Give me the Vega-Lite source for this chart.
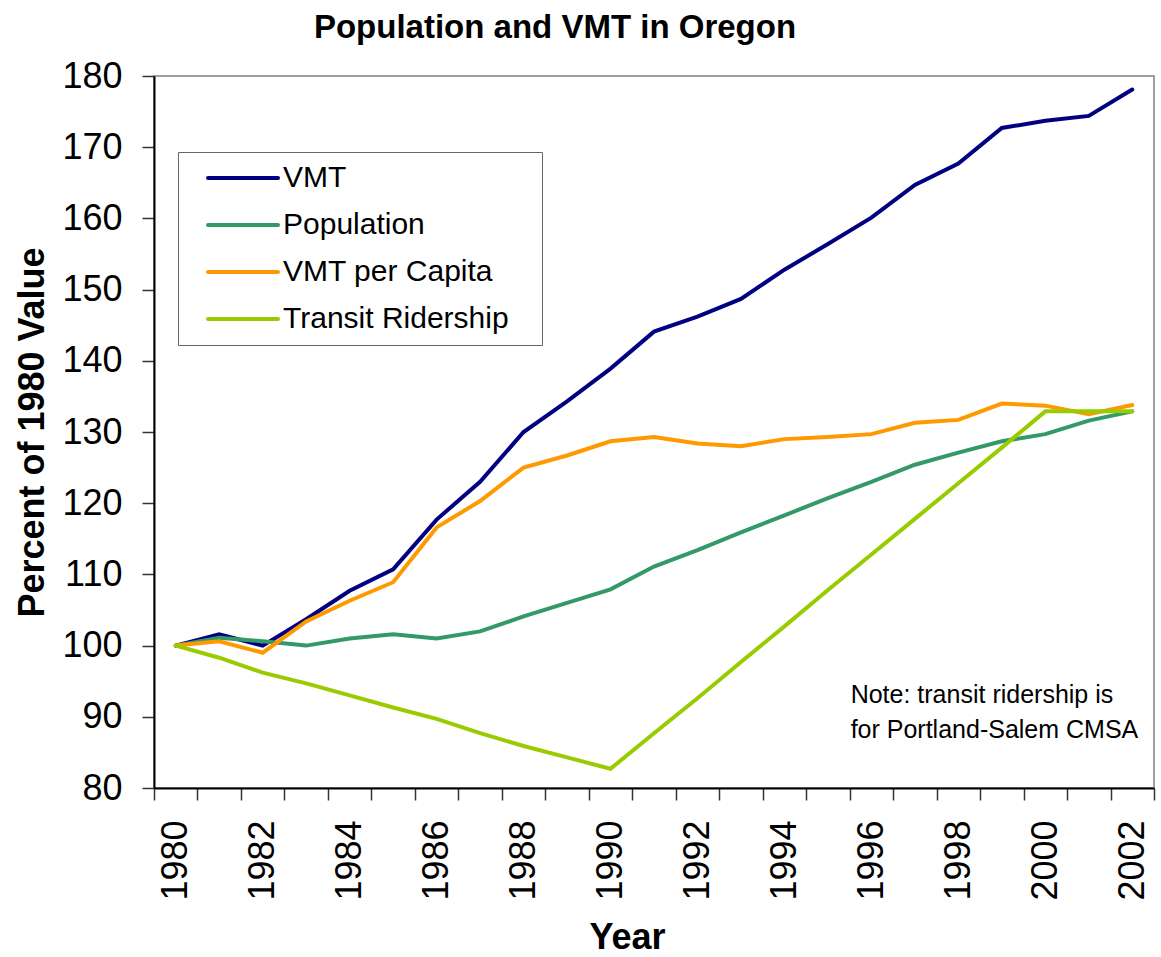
{
  "$schema": "https://vega.github.io/schema/vega-lite/v6.json",
  "autosize": "none",
  "padding": {"left": 154, "top": 76, "right": 7, "bottom": 169},
  "width": 1000,
  "height": 712,
  "background": "white",
  "title": {
    "text": "Population and VMT in Oregon",
    "font": "Liberation Sans",
    "fontSize": 33,
    "fontWeight": "bold",
    "color": "black",
    "anchor": "middle",
    "frame": "group",
    "baseline": "alphabetic",
    "dx": -99,
    "offset": -13
  },
  "config": {
    "view": {"stroke": "#808080", "strokeWidth": 1.5},
    "axis": {"grid": false}
  },
  "layer": [
    {
      "data": {
        "values": [
          {"year": 1980, "series": "VMT", "value": 100.0},
          {"year": 1981, "series": "VMT", "value": 101.6},
          {"year": 1982, "series": "VMT", "value": 100.0},
          {"year": 1983, "series": "VMT", "value": 103.7},
          {"year": 1984, "series": "VMT", "value": 107.7},
          {"year": 1985, "series": "VMT", "value": 110.7},
          {"year": 1986, "series": "VMT", "value": 117.7},
          {"year": 1987, "series": "VMT", "value": 123.0},
          {"year": 1988, "series": "VMT", "value": 130.0},
          {"year": 1989, "series": "VMT", "value": 134.3},
          {"year": 1990, "series": "VMT", "value": 138.9},
          {"year": 1991, "series": "VMT", "value": 144.1},
          {"year": 1992, "series": "VMT", "value": 146.2},
          {"year": 1993, "series": "VMT", "value": 148.7},
          {"year": 1994, "series": "VMT", "value": 152.8},
          {"year": 1995, "series": "VMT", "value": 156.4},
          {"year": 1996, "series": "VMT", "value": 160.1},
          {"year": 1997, "series": "VMT", "value": 164.7},
          {"year": 1998, "series": "VMT", "value": 167.7},
          {"year": 1999, "series": "VMT", "value": 172.7},
          {"year": 2000, "series": "VMT", "value": 173.7},
          {"year": 2001, "series": "VMT", "value": 174.4},
          {"year": 2002, "series": "VMT", "value": 178.1},
          {"year": 1980, "series": "Population", "value": 100.0},
          {"year": 1981, "series": "Population", "value": 101.1},
          {"year": 1982, "series": "Population", "value": 100.6},
          {"year": 1983, "series": "Population", "value": 100.0},
          {"year": 1984, "series": "Population", "value": 101.0},
          {"year": 1985, "series": "Population", "value": 101.6},
          {"year": 1986, "series": "Population", "value": 101.0},
          {"year": 1987, "series": "Population", "value": 102.0},
          {"year": 1988, "series": "Population", "value": 104.1},
          {"year": 1989, "series": "Population", "value": 106.0},
          {"year": 1990, "series": "Population", "value": 107.9},
          {"year": 1991, "series": "Population", "value": 111.1},
          {"year": 1992, "series": "Population", "value": 113.4},
          {"year": 1993, "series": "Population", "value": 115.9},
          {"year": 1994, "series": "Population", "value": 118.3},
          {"year": 1995, "series": "Population", "value": 120.7},
          {"year": 1996, "series": "Population", "value": 123.0},
          {"year": 1997, "series": "Population", "value": 125.4},
          {"year": 1998, "series": "Population", "value": 127.1},
          {"year": 1999, "series": "Population", "value": 128.7},
          {"year": 2000, "series": "Population", "value": 129.7},
          {"year": 2001, "series": "Population", "value": 131.6},
          {"year": 2002, "series": "Population", "value": 132.9},
          {"year": 1980, "series": "VMT per Capita", "value": 100.0},
          {"year": 1981, "series": "VMT per Capita", "value": 100.6},
          {"year": 1982, "series": "VMT per Capita", "value": 99.0},
          {"year": 1983, "series": "VMT per Capita", "value": 103.4},
          {"year": 1984, "series": "VMT per Capita", "value": 106.3},
          {"year": 1985, "series": "VMT per Capita", "value": 108.9},
          {"year": 1986, "series": "VMT per Capita", "value": 116.6},
          {"year": 1987, "series": "VMT per Capita", "value": 120.3},
          {"year": 1988, "series": "VMT per Capita", "value": 125.0},
          {"year": 1989, "series": "VMT per Capita", "value": 126.7},
          {"year": 1990, "series": "VMT per Capita", "value": 128.7},
          {"year": 1991, "series": "VMT per Capita", "value": 129.3},
          {"year": 1992, "series": "VMT per Capita", "value": 128.4},
          {"year": 1993, "series": "VMT per Capita", "value": 128.0},
          {"year": 1994, "series": "VMT per Capita", "value": 129.0},
          {"year": 1995, "series": "VMT per Capita", "value": 129.3},
          {"year": 1996, "series": "VMT per Capita", "value": 129.7},
          {"year": 1997, "series": "VMT per Capita", "value": 131.3},
          {"year": 1998, "series": "VMT per Capita", "value": 131.7},
          {"year": 1999, "series": "VMT per Capita", "value": 134.0},
          {"year": 2000, "series": "VMT per Capita", "value": 133.7},
          {"year": 2001, "series": "VMT per Capita", "value": 132.5},
          {"year": 2002, "series": "VMT per Capita", "value": 133.8},
          {"year": 1980, "series": "Transit Ridership", "value": 100.0},
          {"year": 1981, "series": "Transit Ridership", "value": 98.3},
          {"year": 1982, "series": "Transit Ridership", "value": 96.2},
          {"year": 1983, "series": "Transit Ridership", "value": 94.7},
          {"year": 1984, "series": "Transit Ridership", "value": 93.0},
          {"year": 1985, "series": "Transit Ridership", "value": 91.3},
          {"year": 1986, "series": "Transit Ridership", "value": 89.7},
          {"year": 1987, "series": "Transit Ridership", "value": 87.7},
          {"year": 1988, "series": "Transit Ridership", "value": 85.9},
          {"year": 1989, "series": "Transit Ridership", "value": 84.3},
          {"year": 1990, "series": "Transit Ridership", "value": 82.7},
          {"year": 1991, "series": "Transit Ridership", "value": 87.7},
          {"year": 1992, "series": "Transit Ridership", "value": 92.6},
          {"year": 1993, "series": "Transit Ridership", "value": 97.7},
          {"year": 1994, "series": "Transit Ridership", "value": 102.7},
          {"year": 1995, "series": "Transit Ridership", "value": 107.8},
          {"year": 1996, "series": "Transit Ridership", "value": 112.8},
          {"year": 1997, "series": "Transit Ridership", "value": 117.8},
          {"year": 1998, "series": "Transit Ridership", "value": 122.8},
          {"year": 1999, "series": "Transit Ridership", "value": 127.8},
          {"year": 2000, "series": "Transit Ridership", "value": 132.9},
          {"year": 2001, "series": "Transit Ridership", "value": 132.9},
          {"year": 2002, "series": "Transit Ridership", "value": 132.9}
        ]
      },
      "mark": {"type": "line", "strokeWidth": 4, "strokeCap": "round"},
      "encoding": {
        "x": {
          "field": "year",
          "type": "ordinal",
          "bandPosition": 0.5,
          "scale": {"type": "band", "paddingInner": 0, "paddingOuter": 0},
          "axis": {
            "title": "Year",
            "titleFont": "Liberation Sans",
            "titleFontSize": 36,
            "titleFontWeight": "bold",
            "titleColor": "black",
            "titleX": 473,
            "titleY": 160,
            "titleBaseline": "alphabetic",
            "titleAlign": "center",
            "labelFont": "Liberation Sans",
            "labelFontSize": 36,
            "labelColor": "black",
            "labelAngle": 270,
            "labelPadding": 20,
            "labelExpr": "datum.value % 2 == 0 ? datum.label : ''",
            "labelOverlap": false,
            "tickBand": "extent",
            "tickSize": 12,
            "tickColor": "#333333",
            "tickWidth": 1.5,
            "domainColor": "black",
            "domainWidth": 2
          }
        },
        "y": {
          "field": "value",
          "type": "quantitative",
          "scale": {"domain": [80, 180], "nice": false, "zero": false},
          "axis": {
            "title": "Percent of 1980 Value",
            "titleFont": "Liberation Sans",
            "titleFontSize": 36,
            "titleFontWeight": "bold",
            "titleColor": "black",
            "titleAngle": 270,
            "titleX": -111,
            "titleY": 356,
            "titleBaseline": "alphabetic",
            "titleAlign": "center",
            "values": [80, 90, 100, 110, 120, 130, 140, 150, 160, 170, 180],
            "labelFont": "Liberation Sans",
            "labelFontSize": 36,
            "labelColor": "black",
            "labelPadding": 20,
            "tickSize": 12,
            "tickColor": "#333333",
            "tickWidth": 1.5,
            "domainColor": "black",
            "domainWidth": 2
          }
        },
        "color": {
          "field": "series",
          "type": "nominal",
          "sort": ["VMT", "Population", "VMT per Capita", "Transit Ridership"],
          "scale": {
            "domain": ["VMT", "Population", "VMT per Capita", "Transit Ridership"],
            "range": ["#000080", "#339966", "#FF9900", "#99CC00"]
          },
          "legend": {
            "title": null,
            "orient": "none",
            "legendX": 24,
            "legendY": 76,
            "padding": 11,
            "strokeColor": "#666666",
            "fillColor": "white",
            "symbolType": "M-1,0H9",
            "symbolSize": 196,
            "symbolStrokeWidth": 4,
            "symbolOffset": 11,
            "labelOffset": 53,
            "labelFont": "Liberation Sans",
            "labelFontSize": 30,
            "labelColor": "black",
            "labelLimit": 400,
            "labelExpr": "datum.label + '\u2800'",
            "rowPadding": 17,
            "encode": {"symbols": {"update": {"strokeCap": {"value": "round"}}}}
          }
        }
      }
    },
    {
      "data": {"values": [{}]},
      "mark": {
        "type": "text",
        "text": ["Note: transit ridership is", "for Portland-Salem CMSA"],
        "font": "Liberation Sans",
        "fontSize": 25,
        "lineHeight": 35,
        "align": "left",
        "baseline": "alphabetic",
        "color": "black",
        "dx": 1
      },
      "encoding": {
        "x": {"datum": 1996, "type": "ordinal", "bandPosition": 0},
        "y": {"datum": 91.9, "type": "quantitative"}
      }
    }
  ]
}
